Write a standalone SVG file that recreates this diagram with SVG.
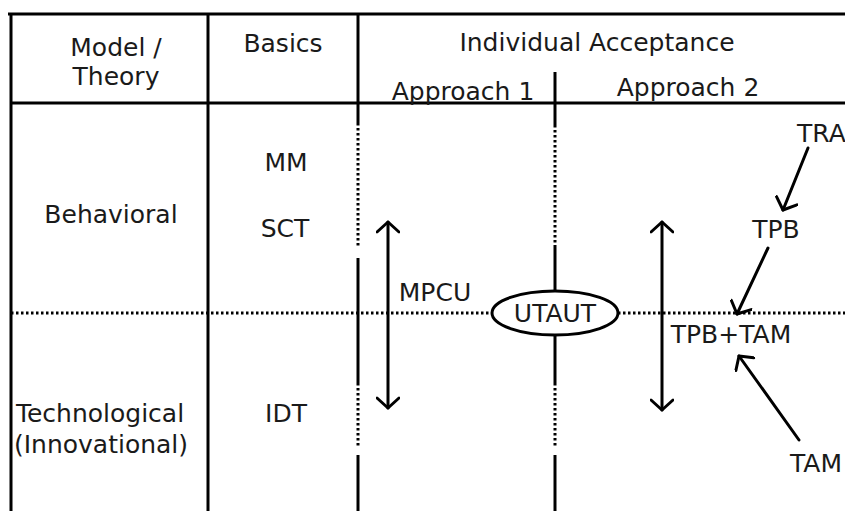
<svg xmlns="http://www.w3.org/2000/svg" width="845" height="511" viewBox="0 0 845 511">
<style>
text{font-family:"DejaVu Sans","Liberation Sans",sans-serif;font-size:25px;fill:#1a1a1a;text-anchor:middle}
.s{stroke:#000;stroke-width:3;fill:none}
.d{stroke:#000;stroke-width:3;fill:none;stroke-dasharray:2.5 2.5}
.a{stroke:#000;stroke-width:3;fill:none;stroke-linecap:round;stroke-linejoin:round}
</style>
<defs>
<marker id="ah" viewBox="-12 -12 24 24" markerWidth="24" markerHeight="24" refX="0" refY="0" orient="auto-start-reverse" markerUnits="userSpaceOnUse">
<path d="M-10,-11 L0,0 L-10,11" fill="none" stroke="#000" stroke-width="3" stroke-linecap="round" stroke-linejoin="round"/>
</marker>
</defs>
<rect width="845" height="511" fill="#fff"/>
<g id="grid">
<line class="s" x1="8" y1="14" x2="845" y2="14"/>
<line class="s" x1="11" y1="103" x2="845" y2="103"/>
<line class="s" x1="11" y1="14" x2="11" y2="511"/>
<line class="s" x1="208" y1="14" x2="208" y2="511"/>
<line class="s" x1="358" y1="14" x2="358" y2="123"/>
<line class="d" x1="358" y1="123" x2="358" y2="248"/>
<line class="s" x1="358" y1="258" x2="358" y2="383"/>
<line class="d" x1="358" y1="383" x2="358" y2="447"/>
<line class="s" x1="358" y1="455" x2="358" y2="511"/>
<line class="s" x1="555" y1="72" x2="555" y2="125"/>
<line class="d" x1="555" y1="125" x2="555" y2="245"/>
<line class="s" x1="555" y1="245" x2="555" y2="291"/>
<line class="s" x1="555" y1="335" x2="555" y2="383"/>
<line class="d" x1="555" y1="383" x2="555" y2="448"/>
<line class="s" x1="555" y1="455" x2="555" y2="511"/>
<line class="d" x1="11" y1="313" x2="492" y2="313"/>
<line class="d" x1="618" y1="313" x2="845" y2="313"/>
</g>
<g id="header">
<text x="116" y="56">Model /</text>
<text x="116" y="85">Theory</text>
<text x="283" y="52">Basics</text>
<text x="597" y="51">Individual Acceptance</text>
<text x="463" y="100">Approach 1</text>
<text x="688" y="96">Approach 2</text>
</g>
<g id="rows">
<text x="111" y="223">Behavioral</text>
<text x="100" y="422">Technological</text>
<text x="101" y="453">(Innovational)</text>
<text x="286" y="171">MM</text>
<text x="285" y="237">SCT</text>
<text x="286" y="422">IDT</text>
</g>
<g id="utaut">
<ellipse cx="555" cy="313" rx="63" ry="22" fill="#fff" stroke="#000" stroke-width="3"/>
<text x="555" y="322">UTAUT</text>
</g>
<g id="mpcu"><text x="435" y="301">MPCU</text></g>
<g id="tra"><text x="797" y="142" style="text-anchor:start">TRA</text></g>
<g id="tpb"><text x="776" y="238">TPB</text></g>
<g id="tpbtam"><text x="731" y="343">TPB+TAM</text></g>
<g id="tam"><text x="790" y="472" style="text-anchor:start">TAM</text></g>
<g id="connectors">
<line class="a" x1="388" y1="222" x2="388" y2="408" marker-start="url(#ah)" marker-end="url(#ah)"/>
<line class="a" x1="662" y1="222" x2="662" y2="410" marker-start="url(#ah)" marker-end="url(#ah)"/>
<line class="a" x1="808" y1="148" x2="783" y2="210" marker-end="url(#ah)"/>
<line class="a" x1="768" y1="248" x2="737" y2="314" marker-end="url(#ah)"/>
<line class="a" x1="799" y1="440" x2="739" y2="356" marker-end="url(#ah)"/>
</g>
</svg>
